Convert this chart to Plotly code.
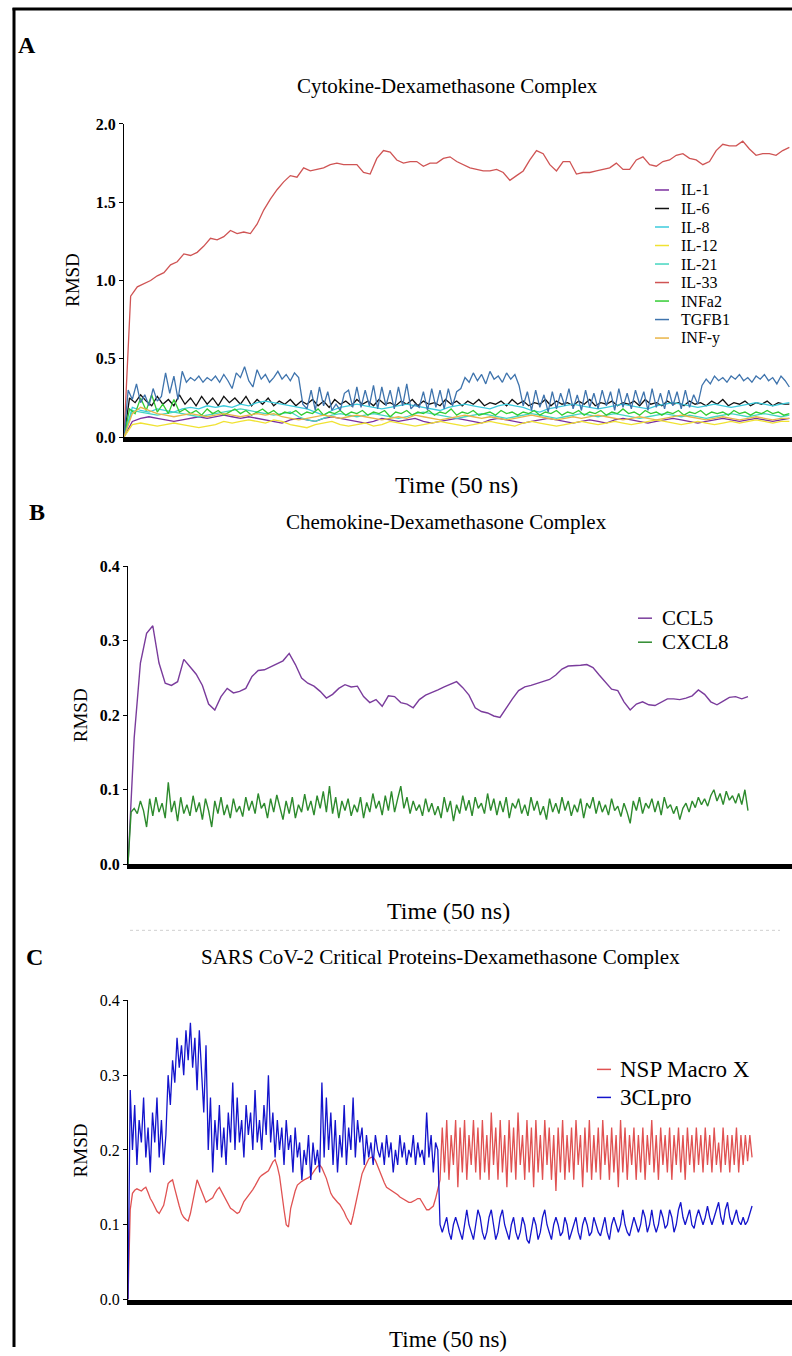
import numpy as np
import plotly.graph_objects as go

W, H = 792, 1356
FONT = "Liberation Serif"

# The rendered page places the figure with a small vertical offset/scale;
# these two numbers map target page pixels to figure pixels.
V_OFF, V_SCALE = 8.1, 0.987


def X(p):
    return p / W


def Y(p):
    return 1 - ((p - V_OFF) / V_SCALE) / H


# ---------------- Panel A : Cytokine-Dexamethasone Complex ----------------
a_names = ["IL-1", "IL-6", "IL-8", "IL-12", "IL-21", "IL-33", "INFa2", "TGFB1", "INF-y"]
a_colors = ["#7b2f9f", "#111111", "#3ccbdc", "#f0e232", "#45d6c0", "#cf5454",
            "#33cc33", "#3f74ad", "#e9b548"]

il1 = [0.0,
       0.10, 0.12, 0.13, 0.12, 0.11, 0.10, 0.11, 0.12, 0.13, 0.12,
       0.13, 0.14, 0.13, 0.12, 0.13, 0.12, 0.11, 0.10, 0.09, 0.11,
       0.12, 0.11, 0.10, 0.12, 0.13, 0.12, 0.11, 0.10, 0.09, 0.10,
       0.12, 0.11, 0.10, 0.11, 0.12, 0.10, 0.09, 0.10, 0.11, 0.12,
       0.11, 0.10, 0.09, 0.11, 0.12, 0.11, 0.10, 0.09, 0.10, 0.11,
       0.12, 0.11, 0.10, 0.09, 0.10, 0.11, 0.10, 0.09, 0.11, 0.12,
       0.11, 0.10, 0.09, 0.10, 0.11, 0.12, 0.11, 0.10, 0.09, 0.10,
       0.11, 0.12, 0.11, 0.10, 0.11, 0.12, 0.11, 0.10, 0.11, 0.12]

il6 = [0.0,
       0.25, 0.22, 0.27, 0.23, 0.20, 0.26, 0.21, 0.24, 0.20, 0.27,
       0.21, 0.25, 0.20, 0.26, 0.21, 0.25, 0.20, 0.26, 0.22, 0.25,
       0.21, 0.26, 0.20, 0.24, 0.21, 0.25, 0.20, 0.23, 0.21, 0.24,
       0.20, 0.23, 0.21, 0.24, 0.20, 0.23, 0.19, 0.24, 0.21, 0.23,
       0.20, 0.24, 0.21, 0.23, 0.20, 0.24, 0.21, 0.22, 0.20, 0.23,
       0.21, 0.24, 0.20, 0.23, 0.21, 0.22, 0.20, 0.24, 0.21, 0.23,
       0.20, 0.23, 0.21, 0.24, 0.20, 0.22, 0.21, 0.23, 0.20, 0.24,
       0.21, 0.23, 0.20, 0.22, 0.21, 0.24, 0.20, 0.23, 0.21, 0.22,
       0.20, 0.23, 0.21, 0.24, 0.20, 0.22, 0.21, 0.23, 0.20, 0.22,
       0.21, 0.23, 0.20, 0.24, 0.21, 0.22, 0.20, 0.23, 0.21, 0.22,
       0.20, 0.23, 0.21, 0.22, 0.20, 0.23, 0.21, 0.24, 0.20, 0.22,
       0.21, 0.23, 0.20, 0.22, 0.21, 0.23, 0.20, 0.22, 0.21, 0.21]

il8 = [0.0,
       0.19, 0.17, 0.16, 0.18, 0.17, 0.16, 0.18, 0.19, 0.18, 0.20,
       0.19, 0.20, 0.19, 0.21, 0.20, 0.22, 0.23, 0.22, 0.21, 0.20,
       0.19, 0.18, 0.16, 0.14, 0.17, 0.19, 0.20, 0.21, 0.20, 0.19,
       0.18, 0.19, 0.20, 0.21, 0.20, 0.19, 0.18, 0.17, 0.19, 0.20,
       0.21, 0.20, 0.19, 0.18, 0.20, 0.21, 0.20, 0.19, 0.17, 0.16,
       0.18, 0.19, 0.20, 0.21, 0.20, 0.19, 0.18, 0.19, 0.20, 0.21,
       0.20, 0.19, 0.18, 0.20, 0.21, 0.22, 0.21, 0.20, 0.19, 0.20,
       0.21, 0.20, 0.19, 0.20, 0.21, 0.22, 0.21, 0.20, 0.21, 0.22]

il12 = [0.0,
        0.08, 0.09, 0.08, 0.07, 0.08, 0.09, 0.08, 0.07, 0.06, 0.07,
        0.08, 0.10, 0.09, 0.10, 0.11, 0.10, 0.09, 0.11, 0.10, 0.08,
        0.07, 0.06, 0.08, 0.09, 0.10, 0.08, 0.07, 0.08, 0.09, 0.07,
        0.08, 0.10, 0.09, 0.08, 0.07, 0.08, 0.09, 0.10, 0.09, 0.08,
        0.07, 0.08, 0.09, 0.10, 0.09, 0.08, 0.07, 0.09, 0.10, 0.09,
        0.08, 0.07, 0.08, 0.09, 0.10, 0.09, 0.08, 0.09, 0.10, 0.09,
        0.08, 0.09, 0.10, 0.11, 0.10, 0.09, 0.08, 0.09, 0.10, 0.09,
        0.08, 0.09, 0.10, 0.09, 0.10, 0.11, 0.10, 0.09, 0.10, 0.10]

il21 = [0.0,
        0.17, 0.16, 0.15, 0.14, 0.15, 0.16, 0.15, 0.14, 0.13, 0.14,
        0.15, 0.16, 0.17, 0.18, 0.17, 0.16, 0.15, 0.14, 0.15, 0.16,
        0.13, 0.11, 0.10, 0.12, 0.14, 0.15, 0.14, 0.13, 0.14, 0.15,
        0.14, 0.13, 0.12, 0.13, 0.15, 0.16, 0.15, 0.14, 0.13, 0.12,
        0.13, 0.14, 0.15, 0.14, 0.13, 0.12, 0.13, 0.14, 0.15, 0.14,
        0.13, 0.12, 0.13, 0.14, 0.15, 0.14, 0.13, 0.14, 0.15, 0.14,
        0.13, 0.12, 0.13, 0.14, 0.15, 0.14, 0.13, 0.14, 0.13, 0.12,
        0.13, 0.14, 0.15, 0.14, 0.13, 0.14, 0.15, 0.14, 0.13, 0.14]

il33 = [0.00, 0.90, 0.96, 0.98, 1.00, 1.03, 1.05, 1.10, 1.12, 1.17,
        1.16, 1.18, 1.22, 1.27, 1.26, 1.28, 1.32, 1.30, 1.31, 1.30,
        1.36, 1.45, 1.52, 1.58, 1.63, 1.67, 1.66, 1.72, 1.70, 1.71,
        1.72, 1.74, 1.75, 1.74, 1.74, 1.74, 1.69, 1.68, 1.78, 1.83,
        1.82, 1.77, 1.75, 1.76, 1.76, 1.73, 1.75, 1.75, 1.78, 1.79,
        1.76, 1.74, 1.72, 1.71, 1.70, 1.70, 1.71, 1.69, 1.64, 1.67,
        1.70, 1.77, 1.83, 1.81, 1.74, 1.70, 1.76, 1.76, 1.68, 1.69,
        1.69, 1.70, 1.71, 1.72, 1.75, 1.71, 1.71, 1.77, 1.79, 1.74,
        1.73, 1.76, 1.77, 1.80, 1.81, 1.78, 1.77, 1.74, 1.76, 1.83,
        1.87, 1.86, 1.86, 1.89, 1.84, 1.80, 1.81, 1.81, 1.80, 1.83,
        1.85]

infa2 = [0.0,
         0.18, 0.15, 0.25, 0.17, 0.27, 0.16, 0.21, 0.15, 0.24, 0.16,
         0.18, 0.15, 0.17, 0.14, 0.18, 0.15, 0.17, 0.14, 0.16, 0.18,
         0.15, 0.17, 0.14, 0.16, 0.18, 0.15, 0.17, 0.14, 0.16, 0.15,
         0.17, 0.14, 0.16, 0.15, 0.18, 0.14, 0.16, 0.15, 0.17, 0.14,
         0.16, 0.15, 0.17, 0.14, 0.16, 0.15, 0.17, 0.13, 0.16, 0.15,
         0.17, 0.14, 0.16, 0.15, 0.17, 0.14, 0.16, 0.15, 0.18, 0.14,
         0.16, 0.15, 0.17, 0.14, 0.15, 0.16, 0.14, 0.17, 0.15, 0.16,
         0.14, 0.16, 0.15, 0.17, 0.14, 0.16, 0.15, 0.17, 0.14, 0.16,
         0.15, 0.17, 0.14, 0.16, 0.15, 0.17, 0.14, 0.16, 0.15, 0.18,
         0.15, 0.16, 0.14, 0.17, 0.15, 0.16, 0.14, 0.16, 0.15, 0.17,
         0.14, 0.16, 0.15, 0.17, 0.14, 0.16, 0.15, 0.16, 0.14, 0.17,
         0.15, 0.16, 0.14, 0.16, 0.15, 0.17, 0.15, 0.16, 0.14, 0.15]

tgfb1 = [0.00, 0.30, 0.24, 0.34, 0.22, 0.27, 0.20, 0.31, 0.23, 0.26,
         0.41, 0.28, 0.39, 0.24, 0.42, 0.35, 0.38, 0.36, 0.39, 0.35,
         0.38, 0.36, 0.39, 0.35, 0.40, 0.36, 0.31, 0.41, 0.38, 0.45,
         0.36, 0.32, 0.43, 0.37, 0.40, 0.35, 0.38, 0.42, 0.37, 0.40,
         0.36, 0.41, 0.38, 0.21, 0.18, 0.30, 0.17, 0.32, 0.20, 0.29,
         0.17, 0.21, 0.17, 0.28, 0.30, 0.19, 0.32, 0.19, 0.30, 0.20,
         0.33, 0.18, 0.32, 0.20, 0.30, 0.18, 0.32, 0.20, 0.34, 0.18,
         0.21, 0.19, 0.29, 0.17, 0.31, 0.19, 0.30, 0.18, 0.31, 0.20,
         0.29, 0.31, 0.38, 0.35, 0.41, 0.36, 0.40, 0.34, 0.42, 0.37,
         0.39, 0.35, 0.41, 0.37, 0.40, 0.33, 0.20, 0.29, 0.17, 0.30,
         0.19, 0.27, 0.16, 0.29, 0.18, 0.28, 0.20, 0.31, 0.18, 0.27,
         0.17, 0.30, 0.19, 0.28, 0.18, 0.30, 0.20, 0.29, 0.17, 0.31,
         0.19, 0.28, 0.18, 0.30, 0.21, 0.29, 0.17, 0.31, 0.19, 0.28,
         0.18, 0.30, 0.20, 0.29, 0.18, 0.30, 0.19, 0.27, 0.21, 0.33,
         0.37, 0.34, 0.39, 0.36, 0.38, 0.35, 0.39, 0.37, 0.40, 0.36,
         0.38, 0.35, 0.39, 0.37, 0.40, 0.36, 0.38, 0.34, 0.39, 0.36,
         0.32]

infy = [0.0,
        0.15, 0.19, 0.17, 0.15, 0.14, 0.13, 0.14, 0.15, 0.14, 0.13,
        0.14, 0.15, 0.14, 0.13, 0.14, 0.15, 0.14, 0.15, 0.13, 0.12,
        0.11, 0.12, 0.13, 0.14, 0.13, 0.12, 0.13, 0.14, 0.13, 0.12,
        0.11, 0.12, 0.13, 0.12, 0.14, 0.13, 0.12, 0.11, 0.12, 0.13,
        0.14, 0.13, 0.12, 0.13, 0.12, 0.11, 0.12, 0.13, 0.14, 0.13,
        0.12, 0.11, 0.12, 0.13, 0.12, 0.13, 0.14, 0.13, 0.12, 0.11,
        0.12, 0.13, 0.12, 0.11, 0.12, 0.13, 0.14, 0.13, 0.12, 0.11,
        0.12, 0.13, 0.12, 0.11, 0.12, 0.13, 0.12, 0.11, 0.12, 0.12]

a_values = [il1, il6, il8, il12, il21, il33, infa2, tgfb1, infy]
a_ticks = [0.0, 0.5, 1.0, 1.5, 2.0]
a_ticktext = ["0.0", "0.5", "1.0", "1.5", "2.0"]

# ---------------- Panel B : Chemokine-Dexamethasone Complex ----------------
b_names = ["CCL5", "CXCL8"]
b_colors = ["#7a3c9c", "#2d8a2d"]

ccl5 = [0.0, 0.17, 0.27, 0.31, 0.32, 0.27, 0.243, 0.24, 0.245, 0.275,
        0.265, 0.255, 0.24, 0.215, 0.207, 0.225, 0.236, 0.23, 0.232, 0.236,
        0.252, 0.26, 0.261, 0.265, 0.268, 0.273, 0.283, 0.268, 0.25, 0.243,
        0.239, 0.232, 0.223, 0.228, 0.236, 0.241, 0.238, 0.239, 0.225, 0.217,
        0.221, 0.212, 0.226, 0.225, 0.217, 0.215, 0.21, 0.221, 0.227, 0.23,
        0.234, 0.238, 0.242, 0.245, 0.237, 0.227, 0.21, 0.205, 0.203, 0.199,
        0.197, 0.21, 0.222, 0.233, 0.238, 0.24, 0.243, 0.246, 0.248, 0.254,
        0.262, 0.266, 0.267, 0.267, 0.268, 0.264, 0.254, 0.244, 0.235, 0.233,
        0.218, 0.207, 0.215, 0.218, 0.214, 0.213, 0.218, 0.222, 0.222, 0.221,
        0.223, 0.226, 0.234, 0.228, 0.218, 0.214, 0.219, 0.224, 0.225, 0.222,
        0.225]

cxcl8 = [0.00, 0.07, 0.075, 0.068, 0.085, 0.072, 0.05, 0.088, 0.065, 0.09,
         0.07, 0.082, 0.062, 0.11, 0.07, 0.085, 0.058, 0.09, 0.068, 0.08,
         0.065, 0.092, 0.07, 0.083, 0.06, 0.088, 0.072, 0.05, 0.085, 0.068,
         0.09, 0.066, 0.08, 0.062, 0.088, 0.07, 0.078, 0.064, 0.09, 0.072,
         0.085, 0.068, 0.095, 0.075, 0.082, 0.062, 0.088, 0.07, 0.093, 0.075,
         0.06, 0.085, 0.068, 0.09, 0.062, 0.08, 0.07, 0.094, 0.072, 0.085,
         0.066, 0.092, 0.075, 0.098, 0.07, 0.105, 0.068, 0.09, 0.062, 0.085,
         0.072, 0.088, 0.065, 0.08, 0.07, 0.09, 0.062, 0.083, 0.07, 0.095,
         0.075, 0.085, 0.066, 0.092, 0.072, 0.098, 0.07, 0.088, 0.105, 0.075,
         0.09, 0.068, 0.085, 0.072, 0.08, 0.065, 0.088, 0.07, 0.082, 0.066,
         0.078, 0.062, 0.09, 0.07, 0.085, 0.058, 0.08, 0.068, 0.092, 0.072,
         0.086, 0.065, 0.09, 0.075, 0.082, 0.068, 0.095, 0.072, 0.088, 0.066,
         0.085, 0.07, 0.09, 0.062, 0.082, 0.075, 0.088, 0.068, 0.08, 0.065,
         0.09, 0.072, 0.085, 0.066, 0.078, 0.06, 0.088, 0.07, 0.082, 0.068,
         0.09, 0.072, 0.085, 0.065, 0.08, 0.07, 0.088, 0.062, 0.082, 0.075,
         0.09, 0.068, 0.085, 0.07, 0.08, 0.066, 0.088, 0.072, 0.078, 0.064,
         0.082, 0.07, 0.055, 0.085, 0.072, 0.09, 0.068, 0.082, 0.075, 0.088,
         0.07, 0.085, 0.066, 0.09, 0.075, 0.08, 0.068, 0.078, 0.06, 0.075,
         0.082, 0.07, 0.085, 0.076, 0.09, 0.08, 0.088, 0.078, 0.092, 0.1,
         0.085, 0.095, 0.08, 0.098, 0.086, 0.092, 0.082, 0.095, 0.08, 0.1,
         0.072]

b_values = [ccl5, cxcl8]

# ------- Panel C : SARS CoV-2 Critical Proteins-Dexamethasone Complex -------
c_names = ["NSP Macro X", "3CLpro"]
c_colors = ["#e05252", "#1414cc"]

nsp_macro_x = [
    0.0, 0.12, 0.142, 0.146, 0.148, 0.146, 0.145, 0.148, 0.15, 0.143,
    0.135, 0.13, 0.124, 0.118, 0.115, 0.12, 0.126, 0.14, 0.155, 0.158,
    0.16, 0.148, 0.135, 0.125, 0.115, 0.11, 0.107, 0.105, 0.115, 0.128,
    0.145, 0.16, 0.152, 0.145, 0.137, 0.13, 0.132, 0.134, 0.136, 0.142,
    0.147, 0.15, 0.144, 0.138, 0.134, 0.128, 0.122, 0.12, 0.117, 0.115,
    0.117, 0.125, 0.131, 0.135, 0.139, 0.142, 0.147, 0.152, 0.157, 0.163,
    0.166, 0.168, 0.17, 0.172, 0.178, 0.184, 0.187, 0.178, 0.165, 0.14,
    0.12, 0.10, 0.097, 0.122, 0.135, 0.145, 0.153, 0.156, 0.158, 0.16,
    0.161, 0.163, 0.165, 0.17, 0.174, 0.178, 0.18, 0.176, 0.17, 0.162,
    0.152, 0.142, 0.137, 0.133, 0.13, 0.127, 0.122, 0.117, 0.11, 0.104,
    0.10, 0.112, 0.126, 0.14, 0.155, 0.168, 0.175, 0.182, 0.188, 0.19,
    0.19, 0.186, 0.178, 0.17, 0.163, 0.156, 0.15, 0.148, 0.147, 0.145,
    0.143, 0.14, 0.137, 0.135, 0.134, 0.132, 0.13, 0.13, 0.131, 0.133,
    0.135, 0.135, 0.13, 0.125, 0.12, 0.12, 0.122, 0.125, 0.135, 0.15,
    0.16, 0.23, 0.17, 0.24, 0.16, 0.22, 0.18, 0.24, 0.15, 0.23,
    0.17, 0.24, 0.16, 0.22, 0.18, 0.24, 0.17, 0.23, 0.16, 0.24,
    0.17, 0.22, 0.16, 0.25, 0.18, 0.23, 0.16, 0.24, 0.17, 0.22,
    0.15, 0.24, 0.17, 0.23, 0.16, 0.25, 0.18, 0.22, 0.16, 0.24,
    0.17, 0.23, 0.15, 0.24, 0.17, 0.22, 0.16, 0.24, 0.18, 0.23,
    0.16, 0.22, 0.145, 0.23, 0.17, 0.24, 0.16, 0.22, 0.17, 0.23,
    0.16, 0.24, 0.18, 0.22, 0.15, 0.23, 0.17, 0.24, 0.16, 0.22,
    0.17, 0.23, 0.16, 0.24, 0.18, 0.22, 0.16, 0.23, 0.17, 0.22,
    0.15, 0.24, 0.17, 0.23, 0.16, 0.22, 0.18, 0.23, 0.16, 0.22,
    0.17, 0.23, 0.16, 0.22, 0.18, 0.24, 0.17, 0.22, 0.16, 0.23,
    0.18, 0.22, 0.17, 0.23, 0.16, 0.22, 0.18, 0.23, 0.17, 0.22,
    0.16, 0.23, 0.18, 0.22, 0.17, 0.23, 0.18, 0.22, 0.17, 0.23,
    0.18, 0.22, 0.17, 0.23, 0.18, 0.21, 0.17, 0.23, 0.18, 0.22,
    0.17, 0.22, 0.18, 0.23, 0.17, 0.22, 0.18, 0.22, 0.185, 0.22,
    0.19]

cl3pro = [
    0.00, 0.28, 0.20, 0.26, 0.18, 0.24, 0.21, 0.27, 0.19, 0.23,
    0.17, 0.25, 0.21, 0.27, 0.19, 0.24, 0.18, 0.22, 0.30, 0.26,
    0.32, 0.29, 0.35, 0.31, 0.34, 0.30, 0.36, 0.32, 0.37, 0.31,
    0.35, 0.28, 0.36, 0.30, 0.25, 0.34, 0.20, 0.27, 0.17, 0.24,
    0.20, 0.26, 0.19, 0.23, 0.18, 0.25, 0.21, 0.29, 0.20, 0.27,
    0.21, 0.24, 0.19, 0.26, 0.22, 0.25, 0.20, 0.28, 0.21, 0.24,
    0.20, 0.26, 0.22, 0.30, 0.21, 0.25, 0.19, 0.24, 0.20, 0.23,
    0.18, 0.24, 0.20, 0.22, 0.17, 0.23, 0.19, 0.21, 0.16, 0.20,
    0.18, 0.22, 0.16, 0.21, 0.18, 0.20, 0.17, 0.29, 0.19, 0.27,
    0.20, 0.25, 0.18, 0.24, 0.17, 0.22, 0.19, 0.26, 0.18, 0.23,
    0.20, 0.27, 0.19, 0.24, 0.21, 0.23, 0.18, 0.22, 0.19, 0.21,
    0.18, 0.22, 0.20, 0.19, 0.21, 0.18, 0.22, 0.19, 0.21, 0.17,
    0.20, 0.18, 0.22, 0.19, 0.21, 0.18, 0.20, 0.19, 0.22, 0.18,
    0.21, 0.19, 0.20, 0.18, 0.25, 0.19, 0.22, 0.17, 0.21, 0.20,
    0.10, 0.09, 0.10, 0.11, 0.09, 0.08, 0.10, 0.11, 0.10, 0.09,
    0.08, 0.10, 0.12, 0.10, 0.09, 0.08, 0.10, 0.12, 0.11, 0.09,
    0.08, 0.09, 0.11, 0.12, 0.10, 0.08, 0.09, 0.11, 0.12, 0.10,
    0.09, 0.08, 0.10, 0.11, 0.09, 0.08, 0.09, 0.11, 0.10, 0.08,
    0.075, 0.09, 0.11, 0.10, 0.08, 0.09, 0.11, 0.12, 0.10, 0.09,
    0.08, 0.10, 0.11, 0.10, 0.085, 0.09, 0.11, 0.10, 0.08, 0.09,
    0.10, 0.11, 0.09, 0.08, 0.10, 0.11, 0.10, 0.085, 0.09, 0.11,
    0.10, 0.09, 0.085, 0.10, 0.11, 0.09, 0.08, 0.10, 0.11, 0.10,
    0.09, 0.10, 0.12, 0.10, 0.09, 0.085, 0.10, 0.11, 0.10, 0.09,
    0.10, 0.12, 0.11, 0.09, 0.10, 0.12, 0.10, 0.09, 0.10, 0.12,
    0.11, 0.095, 0.10, 0.12, 0.11, 0.09, 0.10, 0.12, 0.13, 0.11,
    0.10, 0.11, 0.12, 0.10, 0.095, 0.11, 0.12, 0.11, 0.10, 0.11,
    0.125, 0.11, 0.10, 0.11, 0.12, 0.13, 0.11, 0.10, 0.12, 0.13,
    0.11, 0.10, 0.11, 0.12, 0.105, 0.10, 0.11, 0.10, 0.105, 0.115,
    0.125]

c_values = [nsp_macro_x, cl3pro]
bc_ticks = [0.0, 0.1, 0.2, 0.3, 0.4]
bc_ticktext = ["0.0", "0.1", "0.2", "0.3", "0.4"]

SIM_NS = 50  # simulation length (ns)

# ---------------------------------------------------------------------------
fig = go.Figure()


def add_series(names, colors, values, xa, ya, width=1.3):
    for n, c, v in zip(names, colors, values):
        t = np.linspace(0, SIM_NS, len(v))
        fig.add_trace(go.Scatter(x=t, y=v, mode="lines", name=n,
                                 line=dict(color=c, width=width),
                                 xaxis=xa, yaxis=ya, showlegend=False,
                                 hoverinfo="skip"))


add_series(a_names, a_colors, a_values, "x", "y", 1.3)
add_series(b_names, b_colors, b_values, "x2", "y2", 1.4)
add_series(c_names, c_colors, c_values, "x3", "y3", 1.3)

xcommon = dict(showline=True, linewidth=5, linecolor="black", ticks="",
               showticklabels=False, showgrid=False, zeroline=False)


def ycommon(bold):
    return dict(ticks="outside", ticklen=4, tickwidth=1, tickcolor="black",
                showline=True, linewidth=1, linecolor="black",
                showgrid=False, zeroline=False,
                tickfont=dict(family=FONT, size=16, color="black",
                              weight="bold" if bold else "normal"))


fig.update_layout(
    width=W, height=H, autosize=False,
    margin=dict(l=0, r=0, t=0, b=0),
    paper_bgcolor="white", plot_bgcolor="white",
    font=dict(family=FONT, color="black"),
    xaxis=dict(domain=[X(124), 1], anchor="y", range=[0, 50.2], **xcommon),
    yaxis=dict(domain=[Y(437), Y(124)], anchor="x", range=[0, 2.0],
               tickvals=a_ticks, ticktext=a_ticktext, **ycommon(True)),
    xaxis2=dict(domain=[X(128), 1], anchor="y2", range=[0, 53.55], **xcommon),
    yaxis2=dict(domain=[Y(864), Y(566)], anchor="x2", range=[0, 0.4],
                tickvals=bc_ticks, ticktext=bc_ticktext, **ycommon(True)),
    xaxis3=dict(domain=[X(128), 1], anchor="y3", range=[0, 53.2], **xcommon),
    yaxis3=dict(domain=[Y(1299), Y(1000)], anchor="x3", range=[0, 0.4],
                tickvals=bc_ticks, ticktext=bc_ticktext, **ycommon(False)),
)

annotations = []
shapes = []


def text(s, x, y, size, bold=False, angle=0, xanchor="center"):
    annotations.append(dict(text=s, x=X(x), y=Y(y), xref="paper", yref="paper",
                            showarrow=False, xanchor=xanchor, yanchor="middle",
                            textangle=angle,
                            font=dict(family=FONT, size=size, color="black",
                                      weight="bold" if bold else "normal")))


# panel letters and titles
text("A", 27, 45, 24, bold=True)
text("Cytokine-Dexamethasone Complex", 447, 86, 21)
text("RMSD", 72, 280, 19, angle=-90)
text("Time (50 ns)", 456, 485, 24)

text("B", 37, 512, 24, bold=True)
text("Chemokine-Dexamethasone Complex", 446, 522, 21)
text("RMSD", 80, 715, 19, angle=-90)
text("Time (50 ns)", 448, 911, 24)

text("C", 34, 957, 24, bold=True)
text("SARS CoV-2 Critical Proteins-Dexamethasone Complex", 440, 957, 21)
text("RMSD", 80, 1150, 19, angle=-90)
text("Time (50 ns)", 448, 1339, 23)


# legends (drawn as keys + labels)
def legend(names, colors, x0, x1, xt, y0, dy, size):
    for k, (n, c) in enumerate(zip(names, colors)):
        yy = y0 + k * dy
        shapes.append(dict(type="line", xref="paper", yref="paper",
                           x0=X(x0), x1=X(x1), y0=Y(yy), y1=Y(yy),
                           line=dict(color=c, width=1.5)))
        text(n, xt, yy, size, xanchor="left")


legend(a_names, a_colors, 655, 669, 679, 190, 18.5, 16)
legend(b_names, b_colors, 638, 652, 660, 618, 24, 21)
legend(c_names, c_colors, 597, 611, 618, 1069, 28, 23)

# outer frame and separator
shapes.append(dict(type="line", xref="paper", yref="paper",
                   x0=X(14), x1=X(14), y0=Y(8), y1=0,
                   line=dict(color="black", width=3)))
shapes.append(dict(type="line", xref="paper", yref="paper",
                   x0=X(12.5), x1=1, y0=Y(9), y1=Y(9),
                   line=dict(color="black", width=3)))
shapes.append(dict(type="line", xref="paper", yref="paper",
                   x0=X(130), x1=X(780), y0=Y(930), y1=Y(930),
                   line=dict(color="#d0d0d0", width=1, dash="dot")))

fig.update_layout(annotations=annotations, shapes=shapes)

fig.write_html(
    "out.html",
    config={"displayModeBar": False, "staticPlot": True},
    post_script=(
        "document.documentElement.style.margin='0px';"
        "document.body.style.margin='0px';"
        "document.body.style.padding='0px';"
        "var gd=document.getElementById('{plot_id}');"
        "gd.style.position='fixed';gd.style.left='0px';gd.style.top='0px';"
    ),
)
